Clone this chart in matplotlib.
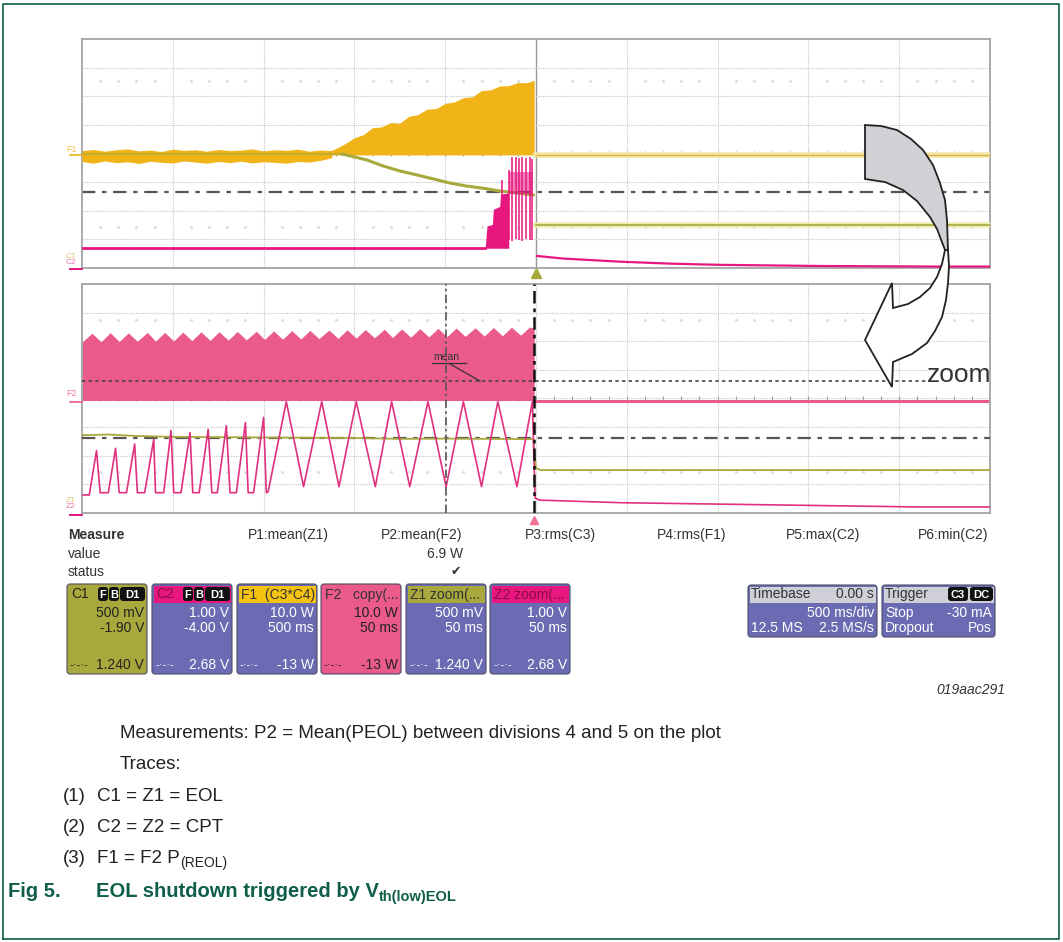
import numpy as np
import matplotlib
matplotlib.use("agg")
from matplotlib import pyplot as plt
from matplotlib.patches import FancyBboxPatch, Rectangle, Polygon

plt.rcParams['font.family'] = ['Liberation Sans', 'DejaVu Sans']

W, H = 1063, 942

F1_COL = '#F0B419'
C1_COL = '#A8A83C'
C2_COL = '#E6177E'
F2_COL = '#EA5A8B'
PURPLE = '#6B6BB3'
GREEN = '#0E5E4A'

# ---------- top screen, values in graticule divisions (10 x 8) ----------
# F1 = power, noisy band before the ramp
f1_band_x = [0.0, 0.125, 0.25, 0.375, 0.5, 0.625, 0.75, 0.875, 1.0, 1.125, 1.25, 1.375,
             1.5, 1.625, 1.75, 1.875, 2.0, 2.125, 2.25, 2.375, 2.5, 2.625, 2.75]
f1_band_hi = [4.10, 4.14, 4.08, 4.13, 4.16, 4.09, 4.12, 4.07, 4.15, 4.11, 4.13, 4.08,
              4.14, 4.10, 4.12, 4.16, 4.09, 4.13, 4.11, 4.15, 4.08, 4.12, 4.10]
f1_band_lo = [3.72, 3.66, 3.74, 3.68, 3.71, 3.65, 3.73, 3.69, 3.67, 3.74, 3.70, 3.66,
              3.72, 3.68, 3.73, 3.67, 3.71, 3.69, 3.66, 3.72, 3.70, 3.76, 3.85]
# F1 growing envelope
f1_grow_x = [2.70, 2.80, 2.90, 3.00, 3.10, 3.20, 3.30, 3.40, 3.50, 3.60, 3.70, 3.80,
             3.90, 4.00, 4.10, 4.20, 4.30, 4.40, 4.50, 4.60, 4.70, 4.80, 4.90, 4.98]
f1_grow_hi = [4.05, 4.18, 4.35, 4.55, 4.66, 4.90, 4.93, 5.08, 5.06, 5.30, 5.36, 5.55,
              5.57, 5.75, 5.80, 5.95, 5.98, 6.20, 6.22, 6.36, 6.37, 6.48, 6.47, 6.56]
f1_base = 3.95
# C1 = EOL voltage
c1_x = [0.0, 2.87, 3.14, 3.32, 3.50, 3.69, 3.87, 4.05, 4.24, 4.41, 4.60, 4.79, 4.97]
c1_y = [3.98, 3.98, 3.77, 3.56, 3.39, 3.25, 3.11, 2.97, 2.86, 2.79, 2.69, 2.62, 2.55]
c1_after = 1.50
vth_top = 2.65
# C2 = CPT voltage
c2_pre = 0.69
c2_block_x = [4.44, 4.46, 4.52, 4.53, 4.60, 4.61, 4.70]
c2_block_top = [0.69, 1.47, 1.52, 2.05, 2.15, 2.58, 2.62]
c2_spike_x = [4.63, 4.70, 4.74, 4.78, 4.81, 4.85, 4.89, 4.93, 4.96]
c2_spike_top = [3.07, 3.42, 3.88, 3.88, 3.85, 3.88, 3.86, 3.88, 3.80]
c2_spike_bot = [1.50, 0.98, 0.95, 1.00, 0.98, 0.96, 1.00, 0.98, 0.97]
c2_post_x = [5.01, 5.30, 5.93, 6.50, 7.03, 8.13, 9.42, 10.0]
c2_post_y = [0.42, 0.33, 0.22, 0.15, 0.11, 0.07, 0.05, 0.05]

# ---------- bottom screen (zoom) ----------
f2_x = [0.00, 0.11, 0.21, 0.31, 0.41, 0.51, 0.61, 0.72, 0.81, 0.91, 1.01, 1.11, 1.21,
        1.31, 1.41, 1.51, 1.61, 1.71, 1.81, 1.92, 2.01, 2.11, 2.21, 2.31, 2.41, 2.51,
        2.61, 2.72, 2.82, 2.92, 3.02, 3.12, 3.22, 3.33, 3.42, 3.52, 3.62, 3.72, 3.82,
        3.92, 4.02, 4.12, 4.22, 4.33, 4.43, 4.53, 4.63, 4.73, 4.83, 4.93, 4.98]
f2_top = [5.97, 6.28, 5.98, 6.30, 5.99, 6.29, 6.00, 6.31, 6.00, 6.31, 6.01, 6.32, 6.02,
          6.33, 6.03, 6.33, 6.04, 6.34, 6.05, 6.35, 6.06, 6.36, 6.07, 6.37, 6.08, 6.38,
          6.09, 6.39, 6.10, 6.40, 6.11, 6.41, 6.12, 6.42, 6.13, 6.43, 6.14, 6.44, 6.15,
          6.45, 6.16, 6.46, 6.17, 6.47, 6.18, 6.48, 6.19, 6.49, 6.21, 6.50, 6.45]
f2_base = 3.93
f2_mean = 4.61
z1_x = [0.0, 0.3, 0.6, 1.0, 1.5, 2.0, 2.5, 3.0, 3.5, 4.0, 4.5, 4.97, 5.0, 5.05, 10.0]
z1_y = [2.72, 2.74, 2.69, 2.66, 2.65, 2.64, 2.63, 2.62, 2.59, 2.60, 2.59, 2.58, 1.57, 1.50, 1.50]
vth_bot = 2.62
z2_x = [0.01, 0.08, 0.16, 0.20, 0.29, 0.37, 0.41, 0.49, 0.58, 0.61, 0.69, 0.79, 0.81,
        0.90, 0.98, 1.01, 1.09, 1.19, 1.22, 1.29, 1.39, 1.43, 1.49, 1.59, 1.63, 1.70,
        1.80, 1.83, 1.89, 2.00, 2.03, 2.05, 2.25, 2.44, 2.64, 2.83, 3.02, 3.23, 3.41,
        3.61, 3.81, 4.01, 4.20, 4.40, 4.58, 4.79, 4.96, 4.99, 5.04, 5.93, 7.03, 8.13,
        9.23, 9.99]
z2_y = [0.63, 0.63, 2.18, 0.71, 0.71, 2.26, 0.71, 0.71, 2.41, 0.71, 0.71, 2.57, 0.71,
        0.71, 2.88, 0.71, 0.71, 2.81, 0.71, 0.71, 2.92, 0.71, 0.71, 3.05, 0.71, 0.71,
        3.16, 0.71, 0.71, 3.34, 0.71, 0.74, 3.89, 0.92, 3.89, 0.92, 3.89, 0.92, 3.89,
        0.92, 3.89, 0.92, 3.89, 0.92, 3.89, 0.92, 3.89, 0.52, 0.45, 0.36, 0.31, 0.26,
        0.21, 0.21]
cursor_a, cursor_b = 4.01, 4.98

# ---------- measurement / channel readouts ----------
meas_names = ['P1:mean(Z1)', 'P2:mean(F2)', 'P3:rms(C3)', 'P4:rms(F1)', 'P5:max(C2)', 'P6:min(C2)']
meas_x = [288, 422, 560, 692, 823, 953]
p2_value = '6.9 W'
chan_names = ['C1', 'C2', 'F1  (C3*C4)', 'F2   copy(...', 'Z1 zoom(...', 'Z2 zoom(...']
chan_scale = ['500 mV', '1.00 V', '10.0 W', '10.0 W', '500 mV', '1.00 V']
chan_second = ['-1.90 V', '-4.00 V', '500 ms', '50 ms', '50 ms', '50 ms']
chan_level = ['1.240 V', '2.68 V', '-13 W', '-13 W', '1.240 V', '2.68 V']

fig = plt.figure(figsize=(W / 100, H / 100), dpi=100)
fig.patch.set_facecolor('white')


def px_axes(x0, y0, x1, y1):
    return fig.add_axes([x0 / W, 1 - y1 / H, (x1 - x0) / W, (y1 - y0) / H])


def graticule(ax, dot_rows, solid_mid):
    ax.set_xlim(0, 10)
    ax.set_ylim(0, 8)
    ax.set_xticks([])
    ax.set_yticks([])
    for s in ax.spines.values():
        s.set_color('#a4a4a4')
        s.set_linewidth(1.3)
    for k in range(1, 10):
        if k == 5 and solid_mid:
            ax.axvline(k, color='#9a9a9a', lw=1.0, zorder=0)
        else:
            ax.axvline(k, color='#c6c6c6', lw=0.8, ls=(0, (1, 1)), zorder=0)
    for k in range(1, 8):
        ax.axhline(k, color='#c6c6c6', lw=0.8, ls=(0, (1, 1)), zorder=0)
    sub = [v for v in np.arange(0.2, 10, 0.2) if abs(v - round(v)) > 0.05]
    for r in dot_rows:
        ax.plot(sub, [r] * len(sub), ls='none', marker='s', ms=0.9, color='#dadada', zorder=0)
    ticks = np.arange(0.2, 10, 0.2)
    ax.vlines(ticks, 4 - 0.07, 4 + 0.07, color='#a0a0a0', lw=0.8, zorder=0)


# ---------------- top screen ----------------
ax1 = px_axes(82, 39, 990, 268)
graticule(ax1, [6.53, 1.43], True)
ax1.axhline(vth_top, color='#555555', lw=1.6, ls=(0, (6, 3, 2, 3)), zorder=2)
ax1.fill_between(f1_band_x, f1_band_lo, f1_band_hi, color=F1_COL, lw=0, zorder=3)
ax1.fill_between(f1_grow_x, f1_base, f1_grow_hi, color=F1_COL, lw=0, zorder=3)
ax1.plot(c1_x[:2], c1_y[:2], color=C1_COL, lw=1.5, alpha=0.6, zorder=4)
ax1.plot(c1_x[1:], c1_y[1:], color=C1_COL, lw=2.2, zorder=4)
ax1.plot([5.0, 10], [f1_base, f1_base], color='#F6E7A6', lw=4, zorder=3)
ax1.plot([5.0, 10], [f1_base, f1_base], color='#D8B654', lw=1.0, zorder=3)
ax1.plot([5.0, 10], [c1_after, c1_after], color='#EFEDAE', lw=4, zorder=3)
ax1.plot([5.0, 10], [c1_after, c1_after], color=C1_COL, lw=1.2, zorder=3)
ax1.plot([0, c2_block_x[0]], [c2_pre, c2_pre], color=C2_COL, lw=2, zorder=4)
ax1.fill_between(c2_block_x, c2_pre, c2_block_top, color=C2_COL, lw=0, zorder=4)
ax1.fill_between([4.70, 4.97], 2.6, 3.35, color=C2_COL, alpha=0.55, lw=0, zorder=4)
ax1.vlines(c2_spike_x, c2_spike_bot, c2_spike_top, color=C2_COL, lw=1.1, zorder=4)
ax1.plot(c2_post_x, c2_post_y, color=C2_COL, lw=1.6, zorder=4)

# ---------------- bottom screen ----------------
ax2 = px_axes(82, 284, 990, 513)
graticule(ax2, [6.74, 1.43], False)
ax2.fill_between(f2_x, f2_base, f2_top, color=F2_COL, lw=0, zorder=2)
ax2.plot([cursor_b, 10], [f2_base, f2_base], color=F2_COL, lw=2.2, zorder=2)
ax2.plot([0, 9.3], [f2_mean, f2_mean], color='#444444', lw=1.2, ls=(0, (2, 2)), zorder=3)
ax2.axhline(vth_bot, color='#555555', lw=1.6, ls=(0, (6, 3, 2, 3)), zorder=3)
ax2.plot(z1_x, z1_y, color=C1_COL, lw=1.3, zorder=4)
ax2.plot(z2_x, z2_y, color='#E0307F', lw=1.2, zorder=5)
ax2.axvline(cursor_a, color='#555555', lw=1.2, ls=(0, (5, 2, 1.5, 2)), zorder=6)
ax2.axvline(cursor_b, color='#111111', lw=1.8, ls=(0, (5, 2, 1.5, 2)), zorder=6)

# ---------------- overlay in pixel coordinates ----------------
ov = fig.add_axes([0, 0, 1, 1], zorder=10)
ov.set_xlim(0, W)
ov.set_ylim(H, 0)
ov.axis('off')
ov.patch.set_alpha(0)

# page frame
ov.plot([3, 3, 1059, 1059, 3], [939, 4, 4, 939, 939], color=GREEN, lw=1.2)

# channel markers at the left of the screens
ov.text(66, 150, 'F1', color=F1_COL, fontsize=6.5, va='center', alpha=0.8)
ov.plot([70, 82], [155, 155], color=F1_COL, lw=1.2)
ov.text(66, 257, 'C1', color='#D8B654', fontsize=6, va='center', alpha=0.8)
ov.text(66, 263, 'C2', color=C2_COL, fontsize=6, va='center', alpha=0.6)
ov.plot([70, 82], [269, 269], color=C2_COL, lw=1.4)
ov.text(66, 393, 'F2', color=F2_COL, fontsize=6.5, va='center', alpha=0.8)
ov.plot([70, 82], [402, 402], color=F2_COL, lw=1.2)
ov.text(66, 500, 'Z1', color='#D8B654', fontsize=6, va='center', alpha=0.8)
ov.text(66, 507, 'Z2', color=C2_COL, fontsize=6, va='center', alpha=0.6)
ov.plot([70, 82], [515, 515], color=C2_COL, lw=1.4)
ov.plot(536, 273, marker='^', ms=7, color=C1_COL, ls='none')
ov.plot(534, 520, marker='^', ms=6, color='#F07090', ls='none')

# "mean" label
ov.text(433, 357, 'mean', fontsize=7.5, color='#333333', va='center')
ov.plot([432, 466], [363, 363], color='#333333', lw=0.9)
ov.plot([450, 480], [364, 381], color='#333333', lw=0.9)

# curved zoom arrow
grey_pts = [(865, 125), (881, 126), (897, 130), (911, 139), (923, 150), (933, 165),
            (940, 183), (945, 200), (947, 220), (948, 250), (945, 250), (937, 229),
            (930, 217), (917, 201), (903, 190), (885, 182), (865, 179)]
white_pts = [(948, 250), (949, 266), (948, 283), (946, 300), (942, 317), (935, 331),
             (927, 343), (912, 354), (893, 362), (892, 387), (865, 340), (892, 283),
             (893, 308), (908, 304), (920, 297), (930, 288), (937, 277), (942, 264),
             (945, 250)]
ov.add_patch(Polygon(white_pts, closed=True, fc='white', ec='#222222', lw=1.3, zorder=11))
ov.add_patch(Polygon(grey_pts, closed=True, fc='#D0D1D4', ec='#222222', lw=1.3, zorder=12))
ov.text(927, 375, 'zoom', fontsize=19, color='#333333', va='center', ha='left', zorder=12)

# measurement table
ov.text(68, 535, 'Measure', fontsize=10, fontweight='bold', color='#333333', va='center')
ov.text(68, 554, 'value', fontsize=10, color='#333333', va='center')
ov.text(68, 572, 'status', fontsize=10, color='#333333', va='center')
for name, xm in zip(meas_names, meas_x):
    ov.text(xm, 535, name, fontsize=10, color='#333333', va='center', ha='center')
ov.text(463, 554, p2_value, fontsize=10, color='#333333', va='center', ha='right')
ov.text(456, 572, '\u2714', fontsize=9, color='#333333', va='center', ha='center',
        family=['DejaVu Sans'])


def badge(x0, x1, yc, label):
    ov.add_patch(FancyBboxPatch((x0, yc - 7), x1 - x0, 14,
                                boxstyle='round,pad=0,rounding_size=3', fc='#111111',
                                ec='none', zorder=12))
    ov.text((x0 + x1) / 2, yc + 0.5, label, fontsize=8, color='white', fontweight='bold',
            ha='center', va='center', zorder=13)


box_x = [(67, 147), (152, 232), (237, 317), (321, 401), (406, 486), (490, 570)]
box_body = [C1_COL, PURPLE, PURPLE, F2_COL, PURPLE, PURPLE]
box_head = [C1_COL, '#E8177F', '#F4C20F', F2_COL, C1_COL, '#E8177F']
box_head_tc = ['#222222', '#8A0D45', '#333333', '#333333', '#333333', '#8A0D45']
box_tc = ['#222222', 'white', 'white', '#222222', 'white', 'white']
y0, y1 = 584, 674
for i, (bx0, bx1) in enumerate(box_x):
    ov.add_patch(FancyBboxPatch((bx0, y0), bx1 - bx0, y1 - y0,
                                boxstyle='round,pad=0,rounding_size=3', fc=box_body[i],
                                ec='#4d4d66', lw=0.8, zorder=11))
    ov.add_patch(Rectangle((bx0 + 1.5, y0 + 1.5), bx1 - bx0 - 3, 17, fc=box_head[i],
                           ec='none', zorder=11))
    ov.text(bx0 + 4, y0 + 10.5, chan_names[i], fontsize=10, color=box_head_tc[i],
            va='center', zorder=12)
    ov.text(bx1 - 3, 613, chan_scale[i], fontsize=10, color=box_tc[i], va='center',
            ha='right', zorder=12)
    ov.text(bx1 - 3, 628, chan_second[i], fontsize=10, color=box_tc[i], va='center',
            ha='right', zorder=12)
    ov.text(bx0 + 3, 665, '-\u00b7-\u00b7-', fontsize=8, color=box_tc[i], va='center',
            zorder=12)
    ov.text(bx1 - 3, 665, chan_level[i], fontsize=10, color=box_tc[i], va='center',
            ha='right', zorder=12)
for bx0 in (67, 152):
    badge(bx0 + 31, bx0 + 41, 594, 'F')
    badge(bx0 + 42, bx0 + 52, 594, 'B')
    badge(bx0 + 53, bx0 + 78, 594, 'D1')

# timebase and trigger readouts
for (tx0, tx1) in [(748, 877), (882, 995)]:
    ov.add_patch(FancyBboxPatch((tx0, 585), tx1 - tx0, 52,
                                boxstyle='round,pad=0,rounding_size=3', fc=PURPLE,
                                ec='#4d4d66', lw=0.8, zorder=11))
    ov.add_patch(Rectangle((tx0 + 1.5, 586.5), tx1 - tx0 - 3, 16, fc='#CFCFD8',
                           ec='none', zorder=11))
tb = dict(fontsize=10, va='center', zorder=12)
ov.text(751, 594, 'Timebase', color='#333333', **tb)
ov.text(874, 594, '0.00 s', color='#333333', ha='right', **tb)
ov.text(874, 613, '500 ms/div', color='white', ha='right', **tb)
ov.text(751, 628, '12.5 MS', color='white', **tb)
ov.text(874, 628, '2.5 MS/s', color='white', ha='right', **tb)
ov.text(885, 594, 'Trigger', color='#333333', **tb)
badge(948, 968, 594, 'C3')
badge(970, 993, 594, 'DC')
ov.text(885, 613, 'Stop', color='white', **tb)
ov.text(992, 613, '-30 mA', color='white', ha='right', **tb)
ov.text(885, 628, 'Dropout', color='white', **tb)
ov.text(992, 628, 'Pos', color='white', ha='right', **tb)

ov.text(1005, 690, '019aac291', fontsize=10, style='italic', color='#333333',
        ha='right', va='center')

# caption text
rend = fig.canvas.get_renderer()


def runs(x, y, parts, color):
    for txt, size, weight, dy in parts:
        t = ov.text(x, y + dy, txt, fontsize=size, fontweight=weight, color=color,
                    va='baseline')
        x += t.get_window_extent(renderer=rend).width


body = '#222222'
runs(120, 738, [('Measurements: P2 = Mean(PEOL) between divisions 4 and 5 on the plot',
                 13.5, 'normal', 0)], body)
runs(120, 769, [('Traces:', 13.5, 'normal', 0)], body)
runs(63, 801, [('(1)', 13.5, 'normal', 0)], body)
runs(97, 801, [('C1 = Z1 = EOL', 13.5, 'normal', 0)], body)
runs(63, 832, [('(2)', 13.5, 'normal', 0)], body)
runs(97, 832, [('C2 = Z2 = CPT', 13.5, 'normal', 0)], body)
runs(63, 863, [('(3)', 13.5, 'normal', 0)], body)
runs(97, 863, [('F1 = F2 P', 13.5, 'normal', 0), ('(REOL)', 10, 'normal', 4)], body)
runs(8, 897, [('Fig 5.', 14.5, 'bold', 0)], GREEN)
runs(96, 897, [('EOL shutdown triggered by V', 14.5, 'bold', 0),
               ('th(low)EOL', 10.5, 'bold', 4)], GREEN)

fig.savefig('out.png', dpi=100)
